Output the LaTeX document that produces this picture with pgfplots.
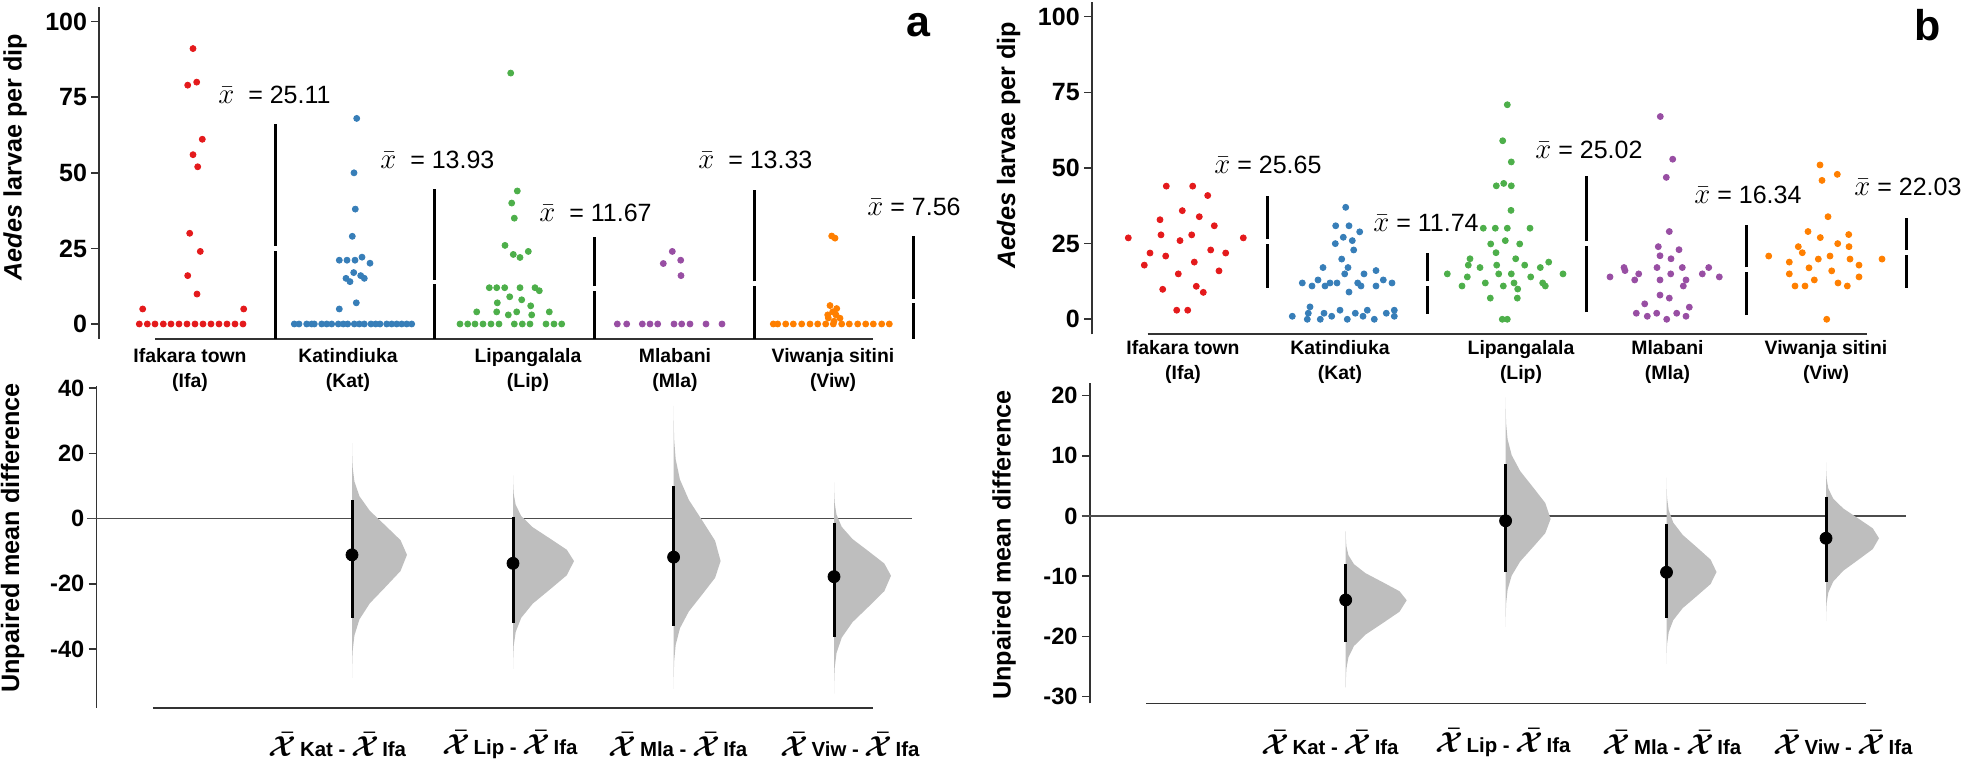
\documentclass[border=0pt]{standalone}
\usepackage{pgfplots}
\pgfplotsset{compat=1.18}
\usepackage{fontspec}
\setmainfont{Liberation Sans}
\definecolor{cIfa}{HTML}{E41A1C}
\definecolor{cKat}{HTML}{377EB8}
\definecolor{cLip}{HTML}{4DAF4A}
\definecolor{cMla}{HTML}{984EA3}
\definecolor{cViw}{HTML}{FF7F00}
\definecolor{spine}{HTML}{333333}
\definecolor{violin}{HTML}{BEBEBE}
\pgfplotsset{
  base/.style={scale only axis, clip=false, axis x line=none, axis y line*=left,
    y axis line style={spine, line width=0.8pt, -},
    ytick style={spine, line width=0.8pt},
    tick align=outside, major tick length=3.8pt, xtick=\empty,
    yticklabel style={font=\bfseries\fontsize{12.5}{14}\selectfont, inner sep=2pt},
  },
  swarm/.style={only marks, mark=*, mark size=1.5pt, color=#1, mark options={solid, draw=#1, fill=#1}},
  sdline/.style={black, line width=1.5pt},
  vio/.style={fill=violin, draw=none},
  ci/.style={black, line width=1.5pt},
  md/.style={only marks, mark=*, mark size=3pt, color=black, mark options={draw=black, fill=black}},
}
\tikzset{
  meanlab/.style={font=\fontsize{12.5}{14}\selectfont, anchor=west, inner sep=0pt},
  catlab/.style={font=\bfseries\fontsize{9.7}{12.5}\selectfont, align=center, inner sep=0pt},
  ylab/.style={font=\bfseries\fontsize{12.6}{14}\selectfont, rotate=90, inner sep=0pt},
  panlab/.style={font=\bfseries\fontsize{21.5}{24}\selectfont, inner sep=0pt},
  difflab/.style={inner sep=0pt},
}
\newcommand{\xb}{{\fontsize{15}{15}\selectfont$\bar{x}$}}
\newcommand{\bx}{{\fontsize{15.5}{15.5}\selectfont\boldmath$\bar{\mathcal{X}}$}}
\newcommand{\dl}[1]{\bx{\bfseries\fontsize{10.2}{11}\selectfont\,#1 - }\bx{\bfseries\fontsize{10.2}{11}\selectfont\,Ifa}}
\begin{document}
\begin{tikzpicture}
\path[use as bounding box] (0,0) rectangle (980.5pt,381.5pt);
% ---------------- top a
\begin{axis}[base, at={(49.5pt,212pt)}, anchor=south west, width=433pt, height=166pt,
  xmin=99, xmax=965, ymin=-4.962, ymax=104.86,
  ytick={0,25,50,75,100}, yticklabels={0,25,50,75,100}]
\draw[spine, line width=0.8pt] (axis cs:155,-4.962) -- (axis cs:873,-4.962);
\addplot[swarm=cIfa] coordinates {(139.3,0)(147.3,0)(155,0)(163.3,0)(171,0)(179,0)(187,0)(195,0)(203,0)(211,0)(219,0)(227,0)(235,0)(243,0)
 (142.7,4.96)(243.7,4.96)(197,9.9)(187.7,16)(200.3,24)(189.7,30)(197.7,52)(193,56)(202.3,61.1)(187.7,79)(196.7,80)(193,91.1)};
\addplot[swarm=cKat] coordinates {(294.3,0)(299,0)(306.7,0)(311.7,0)(314.3,0)(321.7,0)(326.7,0)(331.7,0)(338.3,0)(343.3,0)(347.7,0)(354.3,0)(359.3,0)(364.3,0)(371,0)(375.7,0)(380,0)(386.7,0)(391.7,0)(396.7,0)(401.7,0)(406.7,0)(411.7,0)
 (339.3,4.96)(356.3,7)(350,14)(346,15.1)(364.3,15.1)(360.7,16)(353.7,17)(370,20.1)(339.3,21.1)(347,21.1)(355,21.1)(362,22.1)(352.3,29)(355.3,38)(354,50)(356.7,68)};
\addplot[swarm=cLip] coordinates {(460,0)(467.7,0)(475,0)(483,0)(491,0)(499,0)(514.3,0)(522.3,0)(530,0)(546,0)(554,0)(561.7,0)
 (476.7,4)(496.7,4)(516.7,4)(549.3,4)(508.3,3)(531.7,3)(497.3,7)(521.7,8)(530.7,6)(509.7,9)
 (489.3,12)(496.7,12)(504.7,12)(520,12)(535,12)(539.3,11)
 (505,26)(513.3,23)(520,22)(528.3,24)(514.3,35)(511.7,40)(517.3,44)(510.7,83)};
\addplot[swarm=cMla] coordinates {(617.3,0)(626.7,0)(642.3,0)(650,0)(657.7,0)(674,0)(681.7,0)(690,0)(706,0)(722,0)
 (672.3,24)(680.7,21.1)(663.3,20)(681,16)};
\addplot[swarm=cViw] coordinates {(773.3,0)(777.7,0)(785.7,0)(793.3,0)(801.7,0)(810,0)(817.7,0)(825.7,0)(833.3,0)(841.7,0)(849.3,0)(857.7,0)(865.7,0)(873.3,0)(881.7,0)(889.3,0)
 (830,6.1)(836.7,5.1)(832.7,4)(827.7,3)(836,3)(828.3,2)(840,1.9)(834,0.9)(831.7,29.1)(835,28.4)};
% mean +- sd lines
\addplot[sdline] coordinates {(275,-4.962)(275,24.3)}; \addplot[sdline] coordinates {(275,25.9)(275,66)};
\addplot[sdline] coordinates {(434.3,-4.962)(434.3,13.1)}; \addplot[sdline] coordinates {(434.3,14.7)(434.3,44.5)};
\addplot[sdline] coordinates {(594.3,-4.962)(594.3,10.9)}; \addplot[sdline] coordinates {(594.3,12.5)(594.3,28.7)};
\addplot[sdline] coordinates {(754,-4.962)(754,12.5)}; \addplot[sdline] coordinates {(754,14.1)(754,44.3)};
\addplot[sdline] coordinates {(913.3,-4.962)(913.3,6.8)}; \addplot[sdline] coordinates {(913.3,8.4)(913.3,29.1)};
\node[meanlab] at (axis cs:218,75.75) {\xb\ \ = 25.11};
\node[meanlab] at (axis cs:380,54.25) {\xb\ \ = 13.93};
\node[meanlab] at (axis cs:539,36.7) {\xb\ \ = 11.67};
\node[meanlab] at (axis cs:698,54.25) {\xb\ \ = 13.33};
\node[meanlab] at (axis cs:867,38.7) {\xb\ = 7.56};
\node[catlab] at (axis cs:190,-15.2) {Ifakara town\\(Ifa)};
\node[catlab] at (axis cs:348,-15.2) {Katindiuka\\(Kat)};
\node[catlab] at (axis cs:528,-15.2) {Lipangalala\\(Lip)};
\node[catlab] at (axis cs:675,-15.2) {Mlabani\\(Mla)};
\node[catlab] at (axis cs:833,-15.2) {Viwanja sitini\\(Viw)};
\node[ylab] at (axis cs:15,55.2) {\textit{Aedes} larvae per dip};
\node[panlab] at (axis cs:918,98.9) {a};
\end{axis}
% ---------------- bottom a
\begin{axis}[base, at={(48.35pt,27.5pt)}, anchor=south west, width=434.15pt, height=161pt,
  xmin=96.7, xmax=965, ymin=-58.07, ymax=40.70, major tick length=4pt,
  yticklabel style={font=\bfseries\fontsize{11.8}{14}\selectfont},
  ytick={-40,-20,0,20,40}, yticklabels={-40,-20,0,20,40}]
\draw[spine, line width=0.6pt] (axis cs:153,-58.07) -- (axis cs:872.6,-58.07);
\draw[black!70, line width=0.75pt] (axis cs:87,0) -- (axis cs:912,0);
\addplot[vio] coordinates {(352,23.2)(352.04,23.1)(352.12,20.4)(352.61,15.9)(354.41,11.4)(359.44,6.9)(369.86,2.4)(385.36,-2.1)(400.54,-6.6)(407,-11.1)(400.54,-16.05)(385.36,-21.0)(369.86,-25.95)(359.44,-30.9)(354.41,-35.85)(352.61,-40.8)(352.12,-45.75)(352.04,-48.72)(352,-48.8)} -- cycle;
\addplot[vio] coordinates {(513,13.3)(513.04,13.22)(513.13,11.15)(513.68,7.7)(515.68,4.25)(521.25,0.8)(532.81,-2.65)(550.0,-6.1)(566.83,-9.55)(574,-13)(566.83,-17.35)(550.0,-21.7)(532.81,-26.05)(521.25,-30.4)(515.68,-34.75)(513.68,-39.1)(513.13,-43.45)(513.04,-46.06)(513,-46.1)} -- cycle;
\addplot[vio] coordinates {(673.6,34.6)(673.63,34.5)(673.70,30.75)(674.12,24.5)(675.66,18.25)(679.96,12)(688.86,5.75)(702.11,-0.5)(715.08,-6.75)(720.6,-13)(715.08,-18.15)(702.11,-23.3)(688.86,-28.45)(679.96,-33.6)(675.66,-38.75)(674.12,-43.9)(673.70,-49.05)(673.63,-52.14)(673.6,-52.2)} -- cycle;
\addplot[vio] coordinates {(834,11.1)(834.04,11)(834.13,8.75)(834.63,5)(836.5,1.25)(841.71,-2.5)(852.51,-6.25)(868.57,-10)(884.3,-13.75)(891,-17.5)(884.3,-22.25)(868.57,-27)(852.51,-31.75)(841.71,-36.5)(836.5,-41.25)(834.63,-46)(834.13,-50.75)(834.04,-53.6)(834,-53.7)} -- cycle;
\addplot[ci] coordinates {(352,5.7)(352,-30.5)};
\addplot[ci] coordinates {(513,0.6)(513,-32)};
\addplot[ci] coordinates {(673.6,10)(673.6,-32.9)};
\addplot[ci] coordinates {(834,-1.2)(834,-36.2)};
\addplot[md] coordinates {(352,-11.1)(513,-13.7)(673.6,-11.8)(834,-17.8)};
\node[difflab] at (axis cs:337.5,-69.4) {\dl{Kat}};
\node[difflab] at (axis cs:510,-69.4) {\dl{Lip}};
\node[difflab] at (axis cs:678,-69.4) {\dl{Mla}};
\node[difflab] at (axis cs:850,-69.4) {\dl{Viw}};
\node[ylab] at (axis cs:12.5,-5.9) {Unpaired mean difference};
\end{axis}
% ---------------- top b
\begin{axis}[base, at={(545.85pt,214.35pt)}, anchor=south west, width=434.65pt, height=166.15pt,
  xmin=1091.7, xmax=1961, ymin=-4.957, ymax=104.86,
  ytick={0,25,50,75,100}, yticklabels={0,25,50,75,100}]
\draw[spine, line width=0.8pt] (axis cs:1147.7,-4.957) -- (axis cs:1866.7,-4.957);
\addplot[swarm=cIfa] coordinates {(1128.3,26.9)(1166.3,44)(1192.7,44)(1207.7,40.9)(1182.3,35.9)(1160,32.9)(1199.3,33.9)(1214.3,30.9)(1161,27.9)(1191.7,27.9)(1243.3,26.9)(1180,26)(1210.7,22.9)(1150,21.9)(1225.7,21.9)(1165.7,20.9)(1194.3,18.9)(1144.3,17.9)(1219,16)(1178.3,15)(1196.3,10.9)(1162.7,9.9)(1203.3,8.9)(1176.7,3)(1187.7,3)};
\addplot[swarm=cKat] coordinates {(1345.7,37)(1335.7,30.9)(1349,30.9)(1359.7,28.9)(1343.3,27.1)(1335.3,25)(1352.3,26)(1353.7,22.9)(1341.7,19.9)(1323,17.1)(1348,17.1)(1376,16.1)(1344.7,15)(1364,15)(1318,13)(1383.3,13)(1302.3,12)(1312,11)(1325,11)(1330,12)(1337,12)(1357.7,12)(1361,11)(1376,11)(1392,12)(1349,9)(1310,4.1)(1308.3,2)(1324,2)(1340,3)(1367.3,3)(1394.3,3)(1292.3,1)(1307.3,0)(1320.3,0)(1331.7,1)(1347.3,0)(1355.3,2)(1363,1)(1374.3,0)(1386.3,2)(1394.3,1)};
\addplot[swarm=cLip] coordinates {(1507.3,70.9)(1502.7,59)(1511.3,52)(1496.3,44.1)(1503.7,44.9)(1511.3,44.1)(1511,36)
 (1483.3,30.1)(1495.3,30.1)(1507.3,30.1)(1530,30.1)
 (1490.7,24.9)(1505.3,26)(1519.7,24.9)(1496,22)(1470,20)(1468.3,17.9)(1515.7,20)(1496.7,17.9)(1524.7,17.9)(1480,17.1)(1540.3,17.1)
 (1447.3,15)(1498.7,15)(1511.3,15)(1548.7,18.9)(1563,15)(1467.3,14)(1530.7,14)
 (1462,11)(1485.3,12)(1503.3,11)(1514,12)(1542.7,12)(1545.3,11)(1517.7,10)(1490.3,7)(1517.3,7)(1502.3,0)(1507.3,0)};
\addplot[swarm=cMla] coordinates {(1660.3,67)(1672.7,52.9)(1666.3,46.9)(1669.3,29)(1658.3,24)(1679,23)(1660,21)(1671,20)(1624,17.1)(1625,16.1)(1657,17.1)(1682.3,17.1)(1708.7,17.1)(1610,14)(1638.7,15)(1670.7,15)(1702.3,15)(1719.3,14)(1634.7,13)(1660,13)(1686,13)(1683.3,11)(1660,8)(1669.3,7)(1644.7,5.1)(1689.3,4)(1636.3,2)(1656.7,2)(1676.7,2)(1647.3,1)(1686,1)(1666.7,0)};
\addplot[swarm=cViw] coordinates {(1820,51)(1837.3,47.9)(1822,45.9)(1828,33.9)(1808,29)(1820.3,27)(1848.7,28)(1798.3,24)(1837.7,25)(1849,24)(1802.3,22)(1768.7,20.9)(1830,20.9)(1818.3,19.9)(1850,19.9)(1882,19.9)(1789.3,18.9)(1859,17.9)(1809,17)(1831.7,16)(1789.3,15)(1859,14)(1814.3,13)(1795,11)(1805,11)(1838,12)(1847.3,11)(1826.7,0)};
\addplot[sdline] coordinates {(1267.7,10.5)(1267.7,24.85)}; \addplot[sdline] coordinates {(1267.7,26.45)(1267.7,40.9)};
\addplot[sdline] coordinates {(1427.3,1.75)(1427.3,10.94)}; \addplot[sdline] coordinates {(1427.3,12.54)(1427.3,21.8)};
\addplot[sdline] coordinates {(1586.7,2.4)(1586.7,24.22)}; \addplot[sdline] coordinates {(1586.7,25.82)(1586.7,47.3)};
\addplot[sdline] coordinates {(1746.7,1.4)(1746.7,15.54)}; \addplot[sdline] coordinates {(1746.7,17.14)(1746.7,31.2)};
\addplot[sdline] coordinates {(1906,10.5)(1906,21.23)}; \addplot[sdline] coordinates {(1906,22.83)(1906,33.4)};
\node[meanlab] at (axis cs:1214,51.0) {\xb\ = 25.65};
\node[meanlab] at (axis cs:1373,31.9) {\xb\ = 11.74};
\node[meanlab] at (axis cs:1535,55.95) {\xb\ = 25.02};
\node[meanlab] at (axis cs:1694,41.1) {\xb\ = 16.34};
\node[meanlab] at (axis cs:1854,43.6) {\xb\ = 22.03};
\node[catlab] at (axis cs:1183,-13.95) {Ifakara town\\(Ifa)};
\node[catlab] at (axis cs:1340,-13.95) {Katindiuka\\(Kat)};
\node[catlab] at (axis cs:1521,-13.95) {Lipangalala\\(Lip)};
\node[catlab] at (axis cs:1667.5,-13.95) {Mlabani\\(Mla)};
\node[catlab] at (axis cs:1826,-13.95) {Viwanja sitini\\(Viw)};
\node[ylab] at (axis cs:1008.5,57.6) {\textit{Aedes} larvae per dip};
\node[panlab] at (axis cs:1928,97.3) {b};
\end{axis}
% ---------------- bottom b
\begin{axis}[base, at={(545pt,29.85pt)}, anchor=south west, width=435.5pt, height=160pt,
  xmin=1090, xmax=1961, ymin=-31.11, ymax=22.04, major tick length=4pt,
  yticklabel style={font=\bfseries\fontsize{11.8}{14}\selectfont},
  ytick={-30,-20,-10,0,10,20}, yticklabels={-30,-20,-10,0,10,20}]
\draw[spine, line width=0.6pt] (axis cs:1146,-31.11) -- (axis cs:1865.5,-31.11);
\draw[black!70, line width=0.75pt] (axis cs:1081.7,0) -- (axis cs:1906,0);
\addplot[vio] coordinates {(1345.7,-2.5)(1345.74,-2.6)(1345.83,-3.5)(1346.38,-5)(1348.38,-6.5)(1353.95,-8)(1365.51,-9.5)(1382.7,-11)(1399.53,-12.5)(1406.7,-14)(1399.53,-15.9)(1382.7,-17.8)(1365.51,-19.7)(1353.95,-21.6)(1348.38,-23.5)(1346.38,-25.4)(1345.83,-27.3)(1345.74,-28.44)(1345.7,-28.5)} -- cycle;
\addplot[vio] coordinates {(1505.6,19.7)(1505.63,19.64)(1505.7,18.05)(1506.1,15.4)(1507.58,12.75)(1511.69,10.1)(1520.21,7.45)(1532.89,4.8)(1545.31,2.15)(1550.6,-0.5)(1545.31,-2.85)(1532.89,-5.2)(1520.21,-7.55)(1511.69,-9.9)(1507.58,-12.25)(1506.1,-14.6)(1505.7,-16.95)(1505.63,-18.36)(1505.6,-18.4)} -- cycle;
\addplot[vio] coordinates {(1666.5,6.35)(1666.54,6.28)(1666.61,5.05)(1667.06,3.0)(1668.7,0.95)(1673.27,-1.1)(1682.74,-3.15)(1696.83,-5.2)(1710.63,-7.25)(1716.5,-9.3)(1710.63,-11.3)(1696.83,-13.3)(1682.74,-15.3)(1673.27,-17.3)(1668.7,-19.3)(1667.06,-21.3)(1666.61,-23.3)(1666.54,-24.5)(1666.5,-24.55)} -- cycle;
\addplot[vio] coordinates {(1826,8.9)(1826.04,8.84)(1826.12,7.85)(1826.59,6.2)(1828.33,4.55)(1833.17,2.9)(1843.21,1.25)(1858.14,-0.4)(1872.77,-2.05)(1879,-3.7)(1872.77,-5.5)(1858.14,-7.3)(1843.21,-9.1)(1833.17,-10.9)(1828.33,-12.7)(1826.59,-14.5)(1826.12,-16.3)(1826.04,-17.38)(1826,-17.45)} -- cycle;
\addplot[ci] coordinates {(1345.7,-7.97)(1345.7,-21)};
\addplot[ci] coordinates {(1505.6,8.6)(1505.6,-9.25)};
\addplot[ci] coordinates {(1666.5,-1.4)(1666.5,-17)};
\addplot[ci] coordinates {(1826,3.2)(1826,-11)};
\addplot[md] coordinates {(1345.7,-13.95)(1505.6,-0.8)(1666.5,-9.35)(1826,-3.7)};
\node[difflab] at (axis cs:1330,-37.7) {\dl{Kat}};
\node[difflab] at (axis cs:1503,-37.7) {\dl{Lip}};
\node[difflab] at (axis cs:1672,-37.7) {\dl{Mla}};
\node[difflab] at (axis cs:1843,-37.7) {\dl{Viw}};
\node[ylab] at (axis cs:1004,-4.8) {Unpaired mean difference};
\end{axis}
\end{tikzpicture}
\end{document}
